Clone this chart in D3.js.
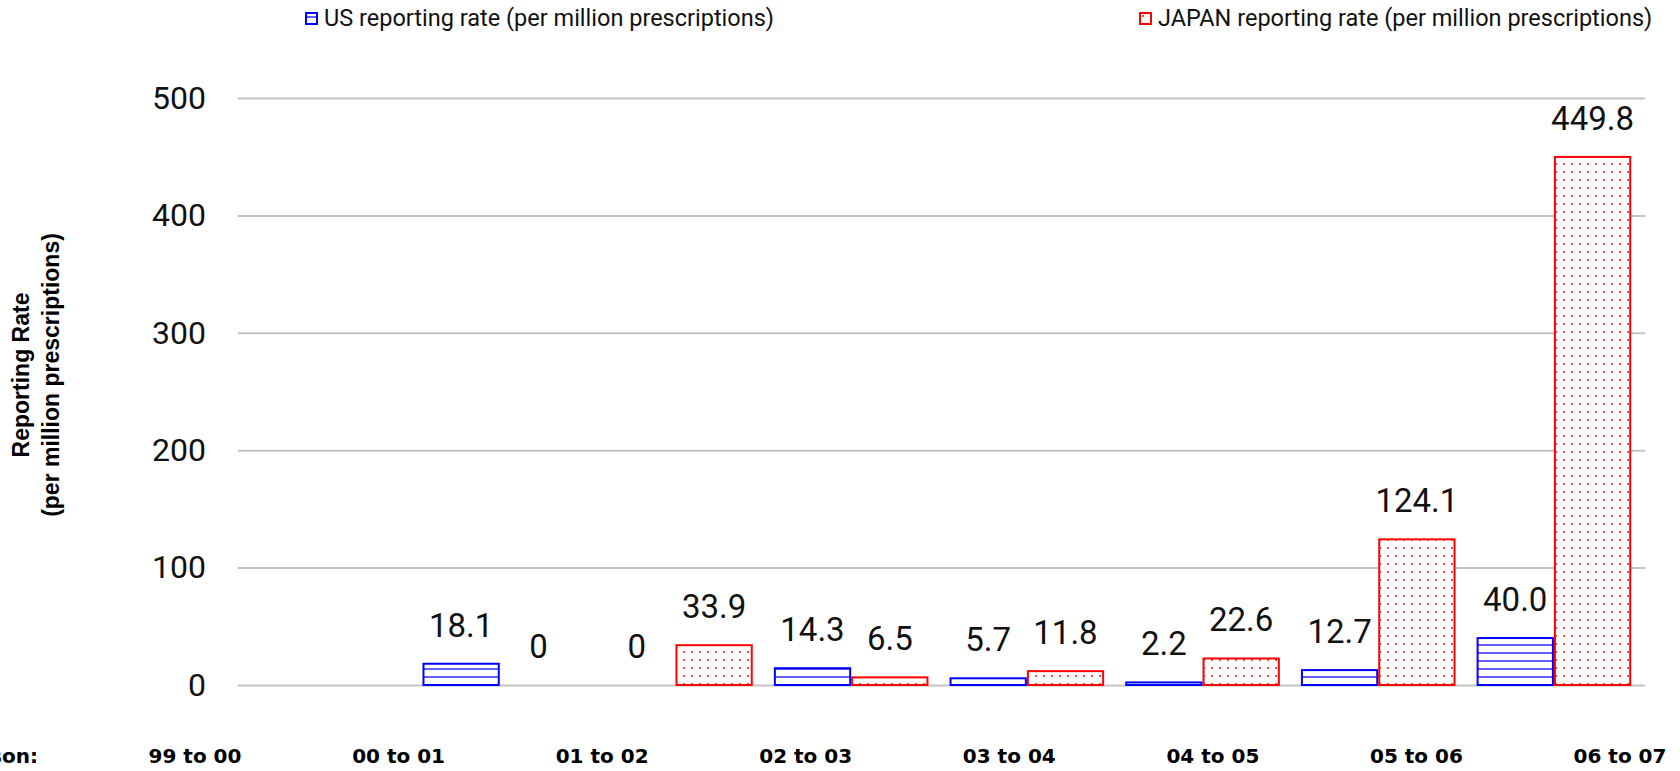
<!DOCTYPE html>
<html>
<head>
<meta charset="utf-8">
<script src="https://cdnjs.cloudflare.com/ajax/libs/d3/7.8.5/d3.min.js"></script>
<style>
  body { margin: 0; background: #fff; }
  svg { display: block; }
</style>
</head>
<body>
<script>
// chart data
var seasons = ["99 to 00", "00 to 01", "01 to 02", "02 to 03", "03 to 04", "04 to 05", "05 to 06", "06 to 07"];
var usRates = [null, 18.1, 0, 14.3, 5.7, 2.2, 12.7, 40.0];
var japanRates = [null, 0, 33.9, 6.5, 11.8, 22.6, 124.1, 449.8];
var seriesNames = ["US reporting rate (per million prescriptions)", "JAPAN reporting rate (per million prescriptions)"];
var yTicks = [0, 100, 200, 300, 400, 500];

function drawChart() {
    var width = 1680, height = 771;

    var svg = d3.select("body").append("svg")
        .attr("width", width)
        .attr("height", height);

    var defs = svg.append("defs");

    // horizontal stripes for US
    var stripes = defs.append("pattern")
        .attr("id", "usFill")
        .attr("patternUnits", "userSpaceOnUse")
        .attr("width", 8).attr("height", 8)
        .attr("y", 1);
    stripes.append("rect").attr("width", 8).attr("height", 8).attr("fill", "#fff");
    stripes.append("line")
        .attr("x1", 0).attr("x2", 8).attr("y1", 4).attr("y2", 4)
        .attr("stroke", "#2a2aff").attr("stroke-opacity", 0.75).attr("stroke-width", 2);

    // dots for Japan
    var dots = defs.append("pattern")
        .attr("id", "jpFill")
        .attr("patternUnits", "userSpaceOnUse")
        .attr("width", 8).attr("height", 8);
    dots.append("rect").attr("width", 8).attr("height", 8).attr("fill", "#fff");
    dots.append("rect")
        .attr("x", 3).attr("y", 3).attr("width", 2).attr("height", 2)
        .attr("fill", "#ff4a4a");

    var x = d3.scaleBand()
        .domain(seasons)
        .range([238, 1640])
        .paddingInner(0.12)
        .paddingOuter(0.05);

    var xSeries = d3.scaleBand()
        .domain([0, 1])
        .range([0, x.bandwidth()]);

    var y = d3.scaleLinear()
        .domain([0, 500])
        .range([685, 98]);

    // gridlines + tick labels
    var yAxis = d3.axisLeft(y)
        .tickValues(yTicks)
        .tickSize(-(1645 - 238))
        .tickPadding(32);

    var gy = svg.append("g")
        .attr("transform", "translate(238,0)")
        .call(yAxis);
    gy.select(".domain").remove();
    gy.selectAll(".tick line")
        .attr("stroke", "#c4c4c4")
        .attr("stroke-width", 2);
    gy.selectAll(".tick text")
        .attr("fill", "#111")
        .style("font-family", "Roboto, sans-serif")
        .style("font-size", "32px");

    var series = [
        { values: usRates, fill: "url(#usFill)", stroke: "#0000ff" },
        { values: japanRates, fill: "url(#jpFill)", stroke: "#ff0000" }
    ];

    series.forEach(function (s, si) {
        var items = seasons.map(function (c, i) { return { season: c, v: s.values[i] }; })
            .filter(function (d) { return d.v !== null; });

        svg.append("g").selectAll("rect")
            .data(items.filter(function (d) { return d.v > 0; }))
            .join("rect")
            .attr("x", function (d) { return x(d.season) + xSeries(si) + 1; })
            .attr("y", function (d) { return y(d.v); })
            .attr("width", xSeries.bandwidth() - 2)
            .attr("height", function (d) { return y(0) - y(d.v); })
            .attr("fill", s.fill)
            .attr("stroke", s.stroke)
            .attr("stroke-width", 2);

        svg.append("g").selectAll("text")
            .data(items)
            .join("text")
            .attr("x", function (d) { return x(d.season) + xSeries(si) + xSeries.bandwidth() / 2; })
            .attr("y", function (d) { return y(d.v) - 27; })
            .attr("text-anchor", "middle")
            .attr("fill", "#111")
            .style("font-family", "Roboto, sans-serif")
            .style("font-size", "33px")
            .text(function (d) { return d.v === 0 ? "0" : d.v.toFixed(1); });
    });

    // season labels row
    var xLabel = d3.scalePoint()
        .domain(seasons)
        .range([195, 1620]);

    svg.append("g").selectAll("text")
        .data(seasons)
        .join("text")
        .attr("x", function (d) { return xLabel(d); })
        .attr("y", 763)
        .attr("text-anchor", "middle")
        .style("font-family", "'DejaVu Sans', sans-serif")
        .style("font-weight", "bold")
        .style("font-size", "20px")
        .attr("fill", "#000")
        .text(function (d) { return d; });

    svg.append("text")
        .attr("x", 38).attr("y", 763)
        .attr("text-anchor", "end")
        .style("font-family", "'DejaVu Sans', sans-serif")
        .style("font-weight", "bold")
        .style("font-size", "20px")
        .text("Season:");

    // y axis title
    var title = svg.append("text")
        .attr("transform", "translate(0,375) rotate(-90)")
        .attr("text-anchor", "middle")
        .style("font-family", "'Liberation Sans', Arial, sans-serif")
        .style("font-weight", "bold")
        .style("font-size", "23px")
        .attr("fill", "#000");
    title.append("tspan").attr("x", 0).attr("y", 29).text("Reporting Rate");
    title.append("tspan").attr("x", 0).attr("y", 59).text("(per million prescriptions)");

    // legend
    var legendX = [305, 1139];
    seriesNames.forEach(function (name, i) {
        var g = svg.append("g").attr("transform", "translate(" + legendX[i] + ",12)");
        g.append("rect")
            .attr("x", 1).attr("y", 1)
            .attr("width", 11).attr("height", 11)
            .attr("fill", series[i].fill)
            .attr("stroke", series[i].stroke)
            .attr("stroke-width", 2);
        g.append("text")
            .attr("x", 19).attr("y", 14)
            .style("font-family", "Roboto, sans-serif")
            .style("font-size", "23.5px")
            .attr("fill", "#111")
            .text(name);
    });
}

window.onload = function () {
    drawChart();
};
</script>
</body>
</html>
